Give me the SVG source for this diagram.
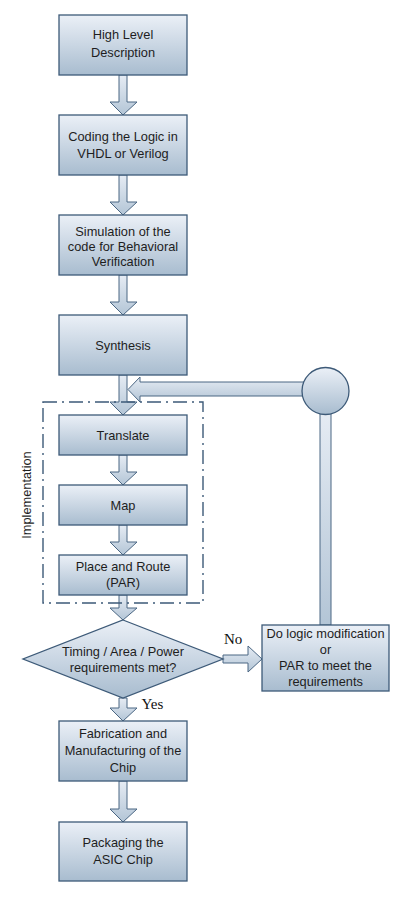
<svg xmlns="http://www.w3.org/2000/svg" width="417" height="909" viewBox="0 0 417 909">
<defs>
<linearGradient id="g" x1="0" y1="0" x2="0" y2="1">
<stop offset="0" stop-color="#ebf0f7"/>
<stop offset="1" stop-color="#a8bccf"/>
</linearGradient>
<linearGradient id="gh" x1="0" y1="0" x2="0" y2="1">
<stop offset="0" stop-color="#e6ecf4"/>
<stop offset="1" stop-color="#b3c5d6"/>
</linearGradient>
<style>
.box{fill:url(#g);stroke:#3d5a78;stroke-width:1.3}
.arr{fill:url(#gh);stroke:#4a6683;stroke-width:1}
.t{font-family:"Liberation Sans",Arial,sans-serif;font-size:12.8px;fill:#1e1e1e;text-anchor:middle}
.s{font-family:"Liberation Serif","Times New Roman",serif;font-size:15px;fill:#111}
</style>
</defs>
<rect width="417" height="909" fill="#fff"/>
<g id="connectors">
<path class="arr" d="M119,75 V102 H110 L123,115 L137,102 H127 V75 Z"/>
<path class="arr" d="M119,175 V202 H110 L123,215 L137,202 H127 V175 Z"/>
<path class="arr" d="M119,275 V302 H110 L123,315 L137,302 H127 V275 Z"/>
<path class="arr" d="M119,375 V402 H110 L123,415 L137,402 H127 V375 Z"/>
<path class="arr" d="M305,382 H140 V377 L128,389.5 L140,402 V396 H305 Z"/>
<path class="arr" d="M320,410 V625 H331 V410 Z"/>
<path class="arr" d="M119,455 V472 H110 L123,485 L137,472 H127 V455 Z"/>
<path class="arr" d="M119,525 V542 H110 L123,555 L137,542 H127 V525 Z"/>
<path class="arr" d="M119,595 V608 H110 L123,620 L137,608 H127 V595 Z"/>
<path class="arr" d="M223,655 H248 V646 L262,659 L248,672 V663 H223 Z"/>
<path class="arr" d="M119,698 V708 H110 L123,721 L137,708 H127 V698 Z"/>
<path class="arr" d="M119,781 V809 H110 L123,822 L137,809 H127 V781 Z"/>
</g>
<g id="implementation">
<rect x="43" y="402" width="160" height="201" fill="none" stroke="#3d5a78" stroke-width="1.4" stroke-dasharray="14,5,2,5"/>
<text class="t" transform="translate(30.5,495) rotate(-90)">Implementation</text>
</g>
<g id="n1"><rect class="box" x="59" y="15" width="128" height="60"/>
<text class="t" x="123" y="39">High Level</text><text class="t" x="123" y="57">Description</text></g>
<g id="n2"><rect class="box" x="59" y="115" width="128" height="60"/>
<text class="t" x="123" y="141">Coding the Logic in</text><text class="t" x="123" y="158">VHDL or Verilog</text></g>
<g id="n3"><rect class="box" x="59" y="215" width="128" height="60"/>
<text class="t" x="123" y="236">Simulation of the</text><text class="t" x="123" y="251">code for Behavioral</text><text class="t" x="123" y="266">Verification</text></g>
<g id="n4"><rect class="box" x="59" y="315" width="128" height="60"/>
<text class="t" x="123" y="349.5">Synthesis</text></g>
<g id="n5"><circle class="box" cx="325.5" cy="391" r="23.5"/></g>
<g id="n6"><rect class="box" x="59" y="415" width="128" height="40"/>
<text class="t" x="123" y="439.5">Translate</text></g>
<g id="n7"><rect class="box" x="59" y="485" width="128" height="40"/>
<text class="t" x="123" y="509.5">Map</text></g>
<g id="n8"><rect class="box" x="59" y="555" width="128" height="40"/>
<text class="t" x="123" y="571">Place and Route</text><text class="t" x="123" y="587">(PAR)</text></g>
<g id="n9"><path class="box" d="M123,620 L223,659 L123,698 L23,659 Z"/>
<text class="t" x="123" y="655.5">Timing / Area / Power</text><text class="t" x="123" y="671.5">requirements met?</text></g>
<g id="n10"><rect class="box" x="262" y="625" width="127" height="66"/>
<text class="t" x="325.5" y="637.5">Do logic modification</text><text class="t" x="325.5" y="654">or</text><text class="t" x="325.5" y="670">PAR to meet the</text><text class="t" x="325.5" y="686">requirements</text></g>
<g id="n11"><rect class="box" x="59" y="721" width="128" height="60"/>
<text class="t" x="123" y="737.5">Fabrication and</text><text class="t" x="123" y="754.5">Manufacturing of the</text><text class="t" x="123" y="771.5">Chip</text></g>
<g id="n12"><rect class="box" x="59" y="822" width="128" height="59"/>
<text class="t" x="123" y="847">Packaging the</text><text class="t" x="123" y="863.5">ASIC Chip</text></g>
<text class="s" x="224" y="644">No</text>
<text class="s" x="141.5" y="709">Yes</text>
</svg>
